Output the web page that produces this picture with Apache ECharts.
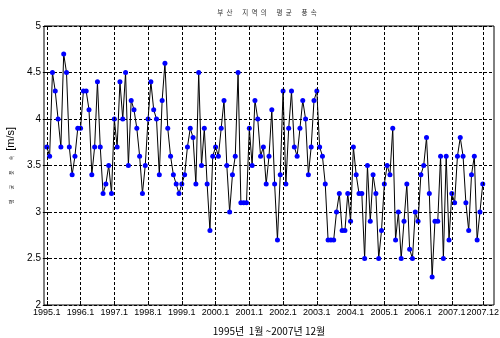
<!DOCTYPE html>
<html lang="ko">
<head>
	<meta charset="UTF-8">
	<title>부산 지역의 평균 풍속</title>
	<style>
		body, div {
			margin: 0;
			padding: 0;
		}
		#main {
			width: 500px;
			height: 338px;
			background: #fff;
		}
	</style>
</head>
<body>
	<div id="main"></div>

	<script src="https://cdn.jsdelivr.net/npm/echarts@6/dist/echarts.min.js"></script>

	<script>
	// 월별 평균 풍속 (m/s), 1995.1 ~ 2007.12
	var speed1995 = [3.7, 3.6, 4.5, 4.3, 4.0, 3.7, 4.7, 4.5, 3.7, 3.4, 3.6, 3.9];
	var speed1996 = [3.9, 4.3, 4.3, 4.1, 3.4, 3.7, 4.4, 3.7, 3.2, 3.3, 3.5, 3.2];
	var speed1997 = [4.0, 3.7, 4.4, 4.0, 4.5, 3.5, 4.2, 4.1, 3.9, 3.6, 3.2, 3.5];
	var speed1998 = [4.0, 4.4, 4.1, 4.0, 3.4, 4.2, 4.6, 3.9, 3.6, 3.4, 3.3, 3.2];
	var speed1999 = [3.3, 3.4, 3.7, 3.9, 3.8, 3.3, 4.5, 3.5, 3.9, 3.3, 2.8, 3.6];
	var speed2000 = [3.7, 3.6, 3.9, 4.2, 3.5, 3.0, 3.4, 3.6, 4.5, 3.1, 3.1, 3.1];
	var speed2001 = [3.9, 3.5, 4.2, 4.0, 3.6, 3.7, 3.3, 3.6, 4.1, 3.3, 2.7, 3.4];
	var speed2002 = [4.3, 3.3, 3.9, 4.3, 3.7, 3.6, 3.9, 4.2, 4.0, 3.4, 3.7, 4.2];
	var speed2003 = [4.3, 3.7, 3.6, 3.3, 2.7, 2.7, 2.7, 3.0, 3.2, 2.8, 2.8, 3.2];
	var speed2004 = [2.9, 3.7, 3.4, 3.2, 3.2, 2.5, 3.5, 2.9, 3.4, 3.2, 2.5, 2.8];
	var speed2005 = [3.3, 3.5, 3.4, 3.9, 2.7, 3.0, 2.5, 2.9, 3.3, 2.6, 2.5, 3.0];
	var speed2006 = [2.9, 3.4, 3.5, 3.8, 3.2, 2.3, 2.9, 2.9, 3.6, 2.5, 3.6, 2.7];
	var speed2007 = [3.2, 3.1, 3.6, 3.8, 3.6, 3.1, 2.8, 3.4, 3.6, 2.7, 3.0, 3.3];

	// x축 눈금 (월 번호) 과 라벨
	var tickIndex = [0, 12, 24, 36, 48, 60, 72, 84, 96, 108, 120, 132, 144, 155];
	var tickLabels = ['1995.1', '1996.1', '1997.1', '1998.1', '1999.1', '2000.1', '2001.1',
		'2002.1', '2003.1', '2004.1', '2005.1', '2006.1', '2007.1', '2007.12'];

	var speeds = [].concat(speed1995, speed1996, speed1997, speed1998, speed1999, speed2000,
		speed2001, speed2002, speed2003, speed2004, speed2005, speed2006, speed2007);

	var points = speeds.map(function(v, i) {
		return [i, v];
	});

	var labelMap = {};
	tickIndex.forEach(function(t, i) {
		labelMap[t] = tickLabels[i];
	});

	var myEcharts = echarts.init(document.getElementById('main'), null, {renderer: 'canvas'});

	var fontLatin = 'Liberation Sans, Arial, sans-serif';
	var fontKr = 'Noto Sans CJK KR, sans-serif';

	// 글자 사이 간격 (en space / em space)
	var sp = '\u2002';
	var wsp = '\u2003\u2002';

	var option = {
		backgroundColor: '#fff',
		animation: false,
		title: {
			text: '부' + sp + '산' + wsp + '지' + sp + '역' + sp + '의' + wsp + '평' + sp + '균' + wsp + '풍' + sp + '속',
			left: 262,
			textAlign: 'center',
			top: 4,
			textStyle: {
				fontFamily: fontKr,
				fontSize: 6.5,
				fontWeight: 'normal',
				color: '#333'
			}
		},
		grid: {
			left: 44,
			right: 6,
			top: 26,
			bottom: 33,
			containLabel: false,
			outerBoundsMode: 'none',
			show: true,
			borderColor: '#000',
			borderWidth: 1
		},
		xAxis: [{
			type: 'value',
			min: -1,
			max: 159,
			name: '1995년  1월 ~2007년 12월',
			nameLocation: 'middle',
			nameGap: 21,
			nameTextStyle: {
				fontFamily: fontKr,
				fontSize: 10,
				color: '#000'
			},
			axisLine: {show: false},
			axisTick: {
				show: true,
				inside: true,
				length: 4,
				customValues: tickIndex,
				lineStyle: {color: '#000'}
			},
			axisLabel: {
				customValues: tickIndex,
				hideOverlap: false,
				showMinLabel: true,
				showMaxLabel: true,
				fontFamily: fontLatin,
				fontSize: 9,
				color: '#000',
				margin: 3,
				formatter: function(v) {
					return labelMap[v] || '';
				}
			},
			splitLine: {show: false}
		}, {
			type: 'value',
			position: 'top',
			min: -1,
			max: 159,
			axisLine: {show: false},
			axisTick: {
				show: true,
				inside: true,
				length: 4,
				customValues: tickIndex,
				lineStyle: {color: '#000'}
			},
			axisLabel: {show: false},
			splitLine: {show: false}
		}],
		yAxis: [{
			type: 'value',
			min: 2,
			max: 5,
			interval: 0.5,
			name: '{k|평\u2003\u2003균\u2003\u2003풍\u2003\u2003속\u2003}{u|[m/s]}',
			nameLocation: 'middle',
			nameGap: 17,
			nameRotate: 90,
			nameTextStyle: {
				color: '#000',
				rich: {
					k: {fontFamily: fontKr, fontSize: 5, color: '#333'},
					u: {fontFamily: fontLatin, fontSize: 11, color: '#000'}
				}
			},
			axisLine: {show: false},
			axisTick: {
				show: true,
				inside: true,
				length: 4,
				lineStyle: {color: '#000'}
			},
			axisLabel: {
				fontFamily: fontLatin,
				fontSize: 10,
				color: '#000',
				margin: 3
			},
			splitLine: {
				show: true,
				lineStyle: {color: '#000', type: [3, 2], width: 1}
			}
		}, {
			type: 'value',
			position: 'right',
			min: 2,
			max: 5,
			interval: 0.5,
			axisLine: {show: false},
			axisTick: {
				show: true,
				inside: true,
				length: 4,
				lineStyle: {color: '#000'}
			},
			axisLabel: {show: false},
			splitLine: {show: false}
		}],
		series: [
			{
				// 세로 격자선
				type: 'line',
				data: [],
				z: 1,
				silent: true,
				markLine: {
					silent: true,
					symbol: 'none',
					label: {show: false},
					lineStyle: {color: '#000', type: [3, 2], width: 1},
					data: tickIndex.map(function(t) {
						return [{coord: [t, 2]}, {coord: [t, 5]}];
					})
				}
			},
			{
				name: '평균 풍속',
				type: 'line',
				data: points,
				z: 3,
				symbol: 'circle',
				symbolSize: 5,
				itemStyle: {color: '#0000ff'},
				lineStyle: {color: '#000', width: 1}
			}
		]
	};

	myEcharts.setOption(option);
	</script>

</body>
</html>
